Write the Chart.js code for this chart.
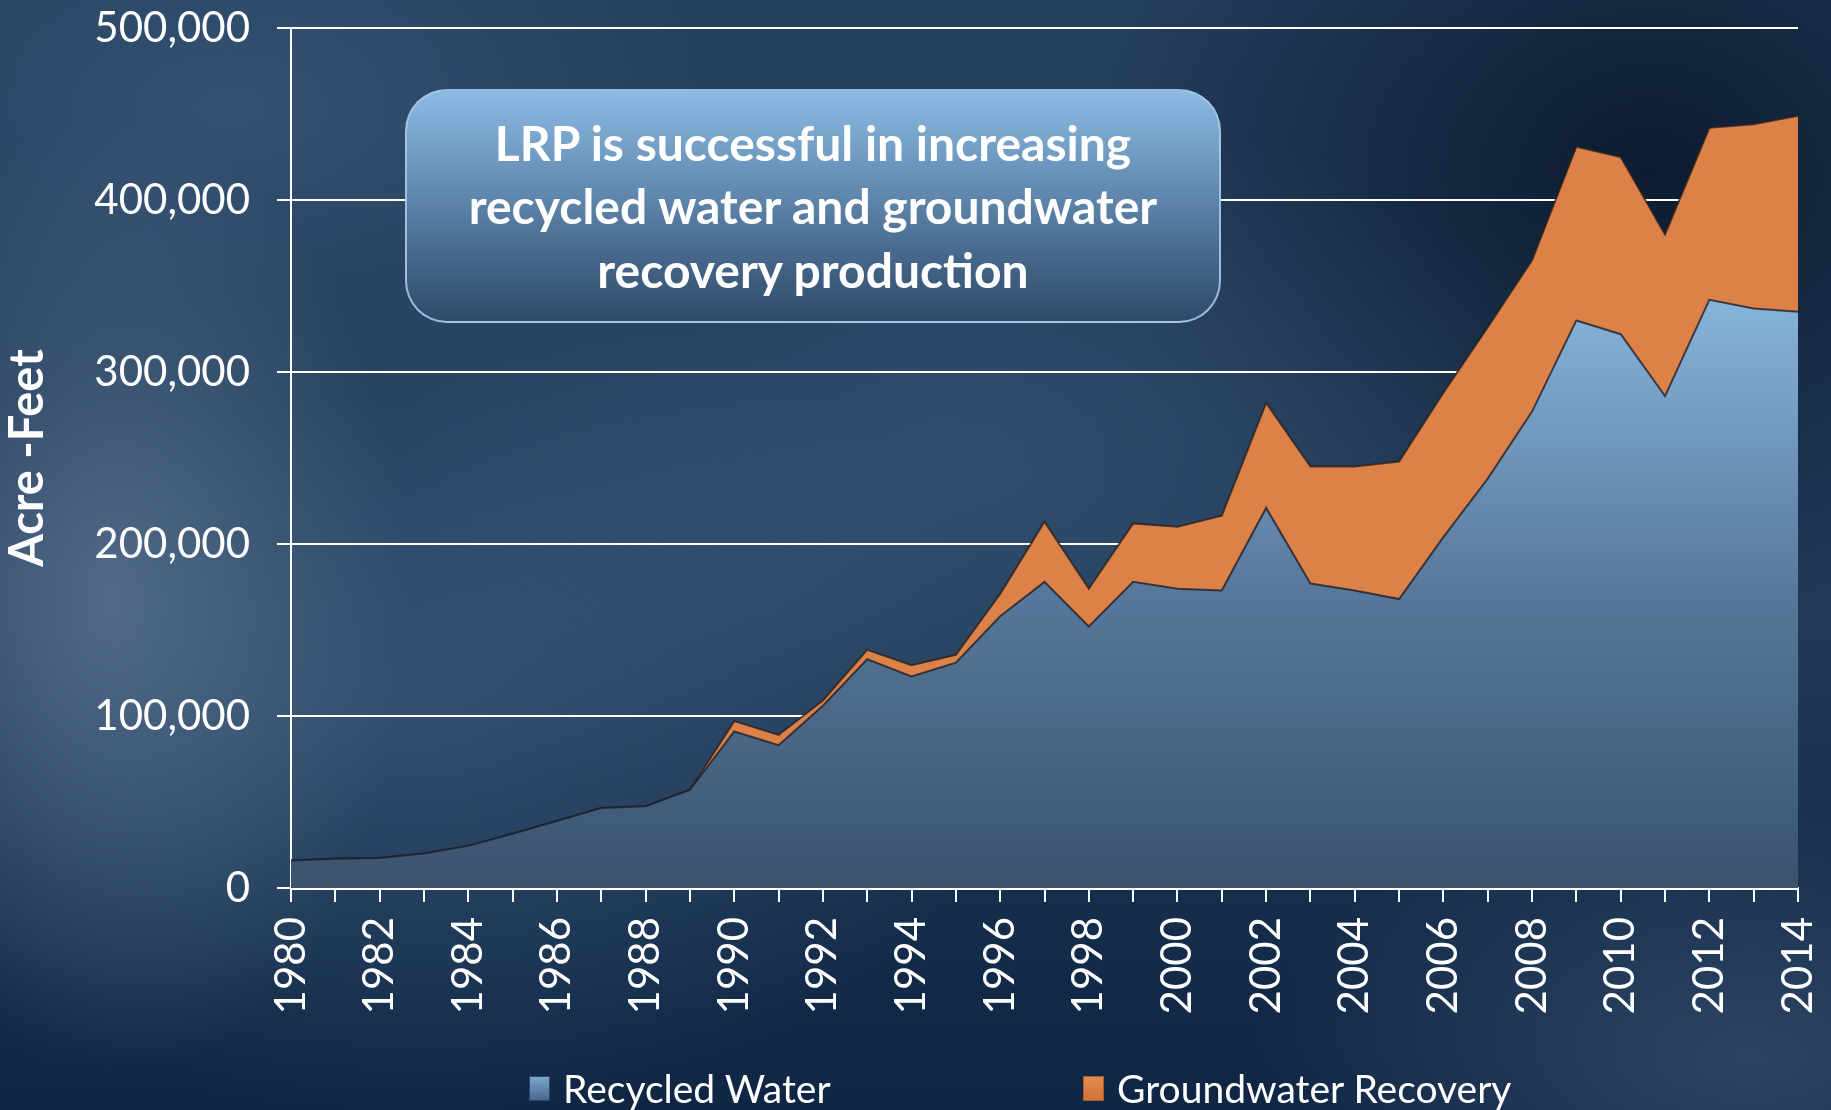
<!DOCTYPE html>
<html>
<head>
<meta charset="utf-8">
<script src="https://cdn.jsdelivr.net/npm/chart.js@4.4.1/dist/chart.umd.min.js"></script>
<style>
html,body{margin:0;padding:0;width:1831px;height:1110px;overflow:hidden;}
body{
  font-family: Lato, "Open Sans", sans-serif;
  background:
    radial-gradient(ellipse 300px 480px at 110px 600px, rgba(105,130,160,0.6), rgba(105,130,160,0) 100%),
    radial-gradient(ellipse 520px 300px at 230px 110px, rgba(75,105,140,0.45), rgba(75,105,140,0) 100%),
    radial-gradient(ellipse 600px 420px at 420px 700px, rgba(80,110,145,0.45), rgba(80,110,145,0) 100%),
    radial-gradient(ellipse 650px 380px at 950px 470px, rgba(75,105,140,0.4), rgba(75,105,140,0) 100%),
    radial-gradient(ellipse 560px 460px at 1650px 170px, rgba(4,16,34,0.75), rgba(4,16,34,0) 100%),
    radial-gradient(ellipse 500px 250px at 1750px 1060px, rgba(80,105,135,0.45), rgba(80,105,135,0) 100%),
    linear-gradient(180deg, #243f5d 0%, #203a58 55%, #132c4a 85%, #0f2544 100%);
}
#wrap{position:relative;width:1831px;height:1110px;}
canvas{position:absolute;left:0;top:0;}
.note{
  position:absolute;left:405px;top:89px;width:812px;height:230px;
  border:2px solid rgba(165,200,232,0.9);border-radius:42px;
  background:linear-gradient(180deg,#8cbbe4 0%,#6a93ba 35%,#48698d 70%,#2f4b6a 100%);
  color:#fff;font-weight:bold;font-size:48px;line-height:63.5px;text-align:center;
  display:flex;align-items:center;justify-content:center;
}
.lg{position:absolute;top:1063px;height:50px;display:flex;align-items:center;color:#fff;font-size:39px;white-space:nowrap;}
.sw{width:21px;height:25px;margin-right:13px;box-sizing:border-box;}
.sw.b{background:linear-gradient(180deg,#7aa6cf,#46698e);border:1px solid #2c4863;}
.sw.o{background:linear-gradient(180deg,#e48c50,#cf743a);border:1px solid #a85a28;}
</style>
</head>
<body>
<div id="wrap">
  <canvas id="c" width="1831" height="1110"></canvas>
  <div class="note"><div>LRP is successful in increasing<br>recycled water and groundwater<br>recovery production</div></div>
  <div class="lg" style="left:529px"><div class="sw b"></div><span>Recycled Water</span></div>
  <div class="lg" style="left:1083px"><div class="sw o"></div><span>Groundwater Recovery</span></div>
</div>
<script>
const years = ['1980','1981','1982','1983','1984','1985','1986','1987','1988','1989',
               '1990','1991','1992','1993','1994','1995','1996','1997','1998','1999',
               '2000','2001','2002','2003','2004','2005','2006','2007','2008','2009',
               '2010','2011','2012','2013','2014'];
const recycledWater = [16000,17000,17500,20000,24500,31500,39000,46500,47500,57000,
                       91000,83000,106000,133000,123000,131000,158000,178000,152000,178000,
                       174000,173000,221000,177000,173000,168000,204000,238000,277000,330000,
                       322000,286000,342000,337000,335000];
const groundwaterRecovery = [0,0,0,0,0,0,0,0,0,0,
                             6000,6000,3000,5500,6500,4500,13000,35000,22000,34000,
                             36000,43500,61000,68000,72000,80000,84000,88000,88000,101000,
                             103000,94000,100000,107000,114000];
const yTickValues = [0,100000,200000,300000,400000,500000];

const ctx = document.getElementById('c').getContext('2d');

function blueFill(context){
  const chart = context.chart;
  const area = chart.chartArea;
  if(!area) return '#5a82a8';
  const ys = chart.scales.y;
  const g = chart.ctx.createLinearGradient(0, ys.getPixelForValue(0), 0, ys.getPixelForValue(350000));
  g.addColorStop(0, '#3a536d');
  g.addColorStop(0.5, '#58799c');
  g.addColorStop(1, '#8ab7de');
  return g;
}

new Chart(ctx, {
  type: 'line',
  data: {
    labels: years,
    datasets: [
      {
        label: 'Recycled Water',
        data: recycledWater,
        fill: 'origin',
        backgroundColor: blueFill,
        borderColor: 'rgba(25,30,40,0.75)',
        borderWidth: 2,
        pointRadius: 0,
        tension: 0
      },
      {
        label: 'Groundwater Recovery',
        data: groundwaterRecovery,
        fill: '-1',
        backgroundColor: '#dc8248',
        borderColor: 'rgba(40,30,25,0.75)',
        borderWidth: 2,
        pointRadius: 0,
        tension: 0
      }
    ]
  },
  options: {
    responsive: false,
    devicePixelRatio: 1,
    animation: false,
    layout: { padding: { left: 0, right: 33, top: 0, bottom: 0 } },
    plugins: { legend: { display: false }, tooltip: { enabled: false } },
    scales: {
      x: {
        offset: false,
        grid: { display: true, drawOnChartArea: false, drawTicks: true, tickLength: 14, color: '#ffffff', lineWidth: 2 },
        border: { display: true, color: '#ffffff', width: 3 },
        ticks: {
          color: '#ffffff',
          font: { family: 'Lato', size: 42, lineHeight: 0.05 },
          autoSkip: false,
          maxRotation: 90,
          minRotation: 90,
          padding: 15,
          callback: function(v, i){ return i % 2 === 0 ? years[i] : ''; }
        },
        afterFit: function(s){ s.height = 222; }
      },
      y: {
        stacked: true,
        min: 0,
        max: 500000,
        afterBuildTicks: function(s){ s.ticks = yTickValues.map(v => ({ value: v })); },
        grid: { color: '#ffffff', lineWidth: 2, tickLength: 14, drawTicks: true },
        border: { display: true, color: '#ffffff', width: 2 },
        ticks: {
          color: '#ffffff',
          font: { family: 'Lato', size: 42, lineHeight: 0.05 },
          padding: 27,
          callback: function(v){ return Number(v).toLocaleString('en-US'); }
        },
        title: {
          display: true,
          text: 'Acre -Feet',
          color: '#ffffff',
          font: { family: 'Lato', size: 47, weight: 'bold' },
          padding: { top: 0, bottom: 0 }
        },
        afterFit: function(s){ s.width = 291; }
      }
    }
  }
});
</script>
</body>
</html>
